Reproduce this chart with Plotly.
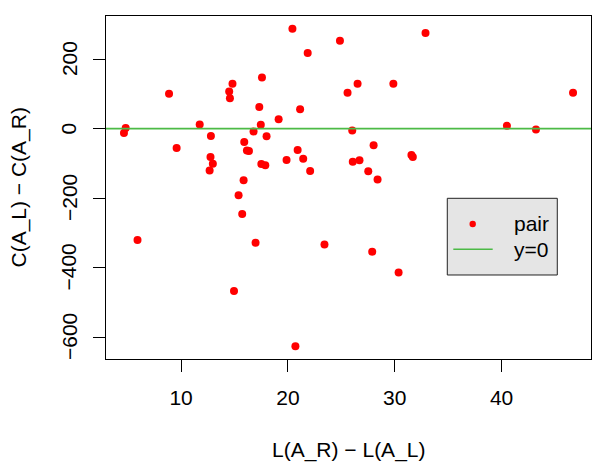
import plotly.graph_objects as go

# L(A_R) - L(A_L) and C(A_L) - C(A_R) for each pair
len_diff = [4.81, 4.65, 5.92, 8.87, 9.58, 11.74, 12.79, 12.75, 12.97, 12.67,
            14.50, 14.57, 14.81, 14.95, 15.38, 15.72, 15.85, 15.91, 16.16, 16.35,
            16.78, 16.97, 17.32, 17.46, 17.51, 17.57, 17.88, 18.00, 19.13, 19.87,
            20.42, 20.70, 20.91, 21.14, 21.43, 21.85, 22.08, 23.42, 24.87, 25.58,
            26.02, 26.07, 26.52, 26.70, 27.52, 27.89, 28.02, 28.39, 29.87, 30.36,
            31.56, 31.69, 32.88, 40.50, 43.22, 46.69]
cost_diff = [2.0, -12.4, -321.0, 100.1, -55.7, 12.1, -21.1, -81.6, -100.9, -120.6,
             106.7, 87.1, 128.9, -467.2, -192.1, -246.0, -148.8, -38.4, -63.4, -64.3,
             -8.1, -328.8, 62.0, 10.7, -101.8, 146.8, -105.6, -21.9, 27.1, -90.3,
             287.5, -626.7, -62.0, 55.9, -86.5, 217.5, -122.0, -333.4, 252.9, 103.0,
             -5.2, -95.2, 128.9, -91.1, -122.9, -354.7, -47.9, -146.5, 128.9, -414.1,
             -75.8, -81.6, 275.4, 7.8, -2.9, 103.0]

x_ticks = [10, 20, 30, 40]
y_ticks = [200, 0, -200, -400, -600]
y_tick_text = ["200", "0", "−200", "−400", "−600"]
ref_y = 0
legend_labels = ["pair", "y=0"]

RED = "#ff0000"
GREEN = "#4cba46"
FONT = "Liberation Sans, Arial, Helvetica, sans-serif"
TXT = dict(size=21, color="black", family=FONT)

# R pads the data range by 4% on each side
def padded(vals):
    lo, hi = min(vals), max(vals)
    d = (hi - lo) * 0.04
    return [lo - d, hi + d]

x_range = padded(len_diff)
y_range = padded(cost_diff)

fig = go.Figure()
fig.add_trace(go.Scatter(x=len_diff, y=cost_diff, mode="markers", name="pair",
                         showlegend=False,
                         marker=dict(color=RED, size=8, line=dict(width=0))))
fig.add_trace(go.Scatter(x=x_range, y=[ref_y, ref_y], mode="lines", name="y=0",
                         showlegend=False, line=dict(color=GREEN, width=1.6)))

axis_common = dict(showline=True, mirror=True, linecolor="black", linewidth=1,
                   ticks="outside", ticklen=12, tickcolor="black", tickwidth=1,
                   showgrid=False, zeroline=False, automargin=False, tickfont=TXT)

fig.update_xaxes(range=x_range, tickvals=x_ticks, ticklabelstandoff=8, **axis_common)
fig.update_yaxes(range=y_range, tickvals=y_ticks, showticklabels=False, **axis_common)

# y tick labels, rotated like R's default las=0
for v, t in zip(y_ticks, y_tick_text):
    fig.add_annotation(x=0, y=v, xref="paper", yref="y", text=t, textangle=-90,
                       showarrow=False, xanchor="center", yanchor="middle",
                       xshift=-37, font=TXT)

# axis titles
fig.add_annotation(x=0.5, y=0, xref="paper", yref="paper", text="L(A_R) − L(A_L)",
                   showarrow=False, xanchor="center", yanchor="middle",
                   yshift=-91, font=TXT)
fig.add_annotation(x=0, y=0.5, xref="paper", yref="paper", text="C(A_L) − C(A_R)",
                   textangle=-90, showarrow=False, xanchor="center", yanchor="middle",
                   xshift=-88, font=TXT)

# legend box drawn by hand, R style (paper coords)
box = dict(x0=0.7037, x1=0.9305, y0=0.2449, y1=0.4685)
row_y = [0.3936, 0.3198]
fig.add_shape(type="rect", xref="paper", yref="paper", **box,
              fillcolor="#e5e5e5", line=dict(color="#222222", width=1))
fig.add_shape(type="circle", xref="paper", yref="paper",
              x0=0.7561 - 3.2 / 485, x1=0.7561 + 3.2 / 485,
              y0=row_y[0] - 3.2 / 343, y1=row_y[0] + 3.2 / 343,
              fillcolor=RED, line=dict(width=0))
fig.add_shape(type="line", xref="paper", yref="paper",
              x0=0.7161, x1=0.7973, y0=row_y[1], y1=row_y[1],
              line=dict(color=GREEN, width=1.6))
for label, yy in zip(legend_labels, row_y):
    fig.add_annotation(x=0.8365, y=yy, xref="paper", yref="paper", text=label,
                       showarrow=False, xanchor="left", yanchor="middle", font=TXT)

# the page body adds an 8px margin, so the figure is 8px smaller each way
fig.update_layout(
    width=592, height=459,
    margin=dict(l=98, r=9, t=8, b=108),
    plot_bgcolor="white", paper_bgcolor="white",
    font=dict(family=FONT, size=21, color="black"),
    showlegend=False,
)

fig.write_html("out.html")
